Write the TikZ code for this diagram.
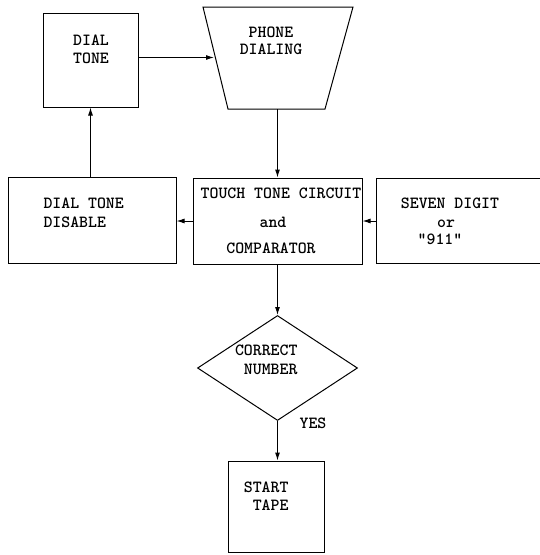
\documentclass[tikz,border=0pt]{standalone}
\usetikzlibrary{shapes.geometric,arrows.meta}
\begin{document}
\begin{tikzpicture}[x=1pt,y=-1pt,
  line width=1pt,
  box/.style={draw,rectangle,inner sep=0pt},
  txt/.style={anchor=base,inner sep=0pt,font=\ttfamily\bfseries\fontsize{17}{18}\selectfont},
  arr/.style={-{Latex[length=8pt,width=5pt]}}]
\useasboundingbox (0,0) rectangle (539,555);
% shapes
\node[box,minimum width=95pt,minimum height=94pt] (dialtone) at (90.5,60) {};
\draw (203,7) -- (353,7) -- (325,109) -- (228,109) -- cycle;
\coordinate (trapleft) at (214,57.5);
\coordinate (trapbottom) at (277.5,109);
\node[box,minimum width=168pt,minimum height=86pt] (disable) at (92,220) {};
\node[box,minimum width=169pt,minimum height=86pt] (touch) at (277.5,221) {};
\node[box,minimum width=165pt,minimum height=85pt] (seven) at (458.5,220.5) {};
\node[draw,diamond,inner sep=0pt,minimum width=160pt,minimum height=105pt] (decide) at (277.5,368) {};
\node[box,minimum width=96pt,minimum height=91pt] (tape) at (276,506.5) {};
% texts
\node[txt] (t1) at (91,45) {DIAL};
\node[txt] (t2) at (91,63) {TONE};
\node[txt] (t3) at (271,37) {PHONE};
\node[txt] (t4) at (271,54) {DIALING};
\node[txt,anchor=base west] (t5) at (43,208) {DIAL TONE};
\node[txt,anchor=base west] (t6) at (43,227) {DISABLE};
\node[txt] (t7) at (281,198) {TOUCH TONE CIRCUIT};
\node[txt] (t8) at (273,227) {and};
\node[txt] (t9) at (271,253) {COMPARATOR};
\node[txt] (t10) at (450,208) {SEVEN DIGIT};
\node[txt] (t11) at (446,227) {or};
\node[txt] (t12) at (440,244) {"911"};
\node[txt,anchor=base east] (t13) at (298,355) {CORRECT};
\node[txt,anchor=base east] (t14) at (298,374) {NUMBER};
\node[txt] (t15) at (313,428) {YES};
\node[txt,anchor=base east] (t16) at (289,492) {START};
\node[txt,anchor=base east] (t17) at (289,510) {TAPE};
% connectors
\draw[arr] (dialtone.east |- trapleft) -- (trapleft);
\draw[arr] (trapbottom) -- (trapbottom |- touch.north);
\draw[arr] (dialtone.south |- disable.north) -- (dialtone.south);
\draw[arr] (touch.west) -- (touch.west -| disable.east);
\draw[arr] (seven.west |- touch.east) -- (touch.east);
\draw[arr] (touch.south) -- (decide.north);
\draw[arr] (decide.south) -- (decide.south |- tape.north);
\end{tikzpicture}
\end{document}
